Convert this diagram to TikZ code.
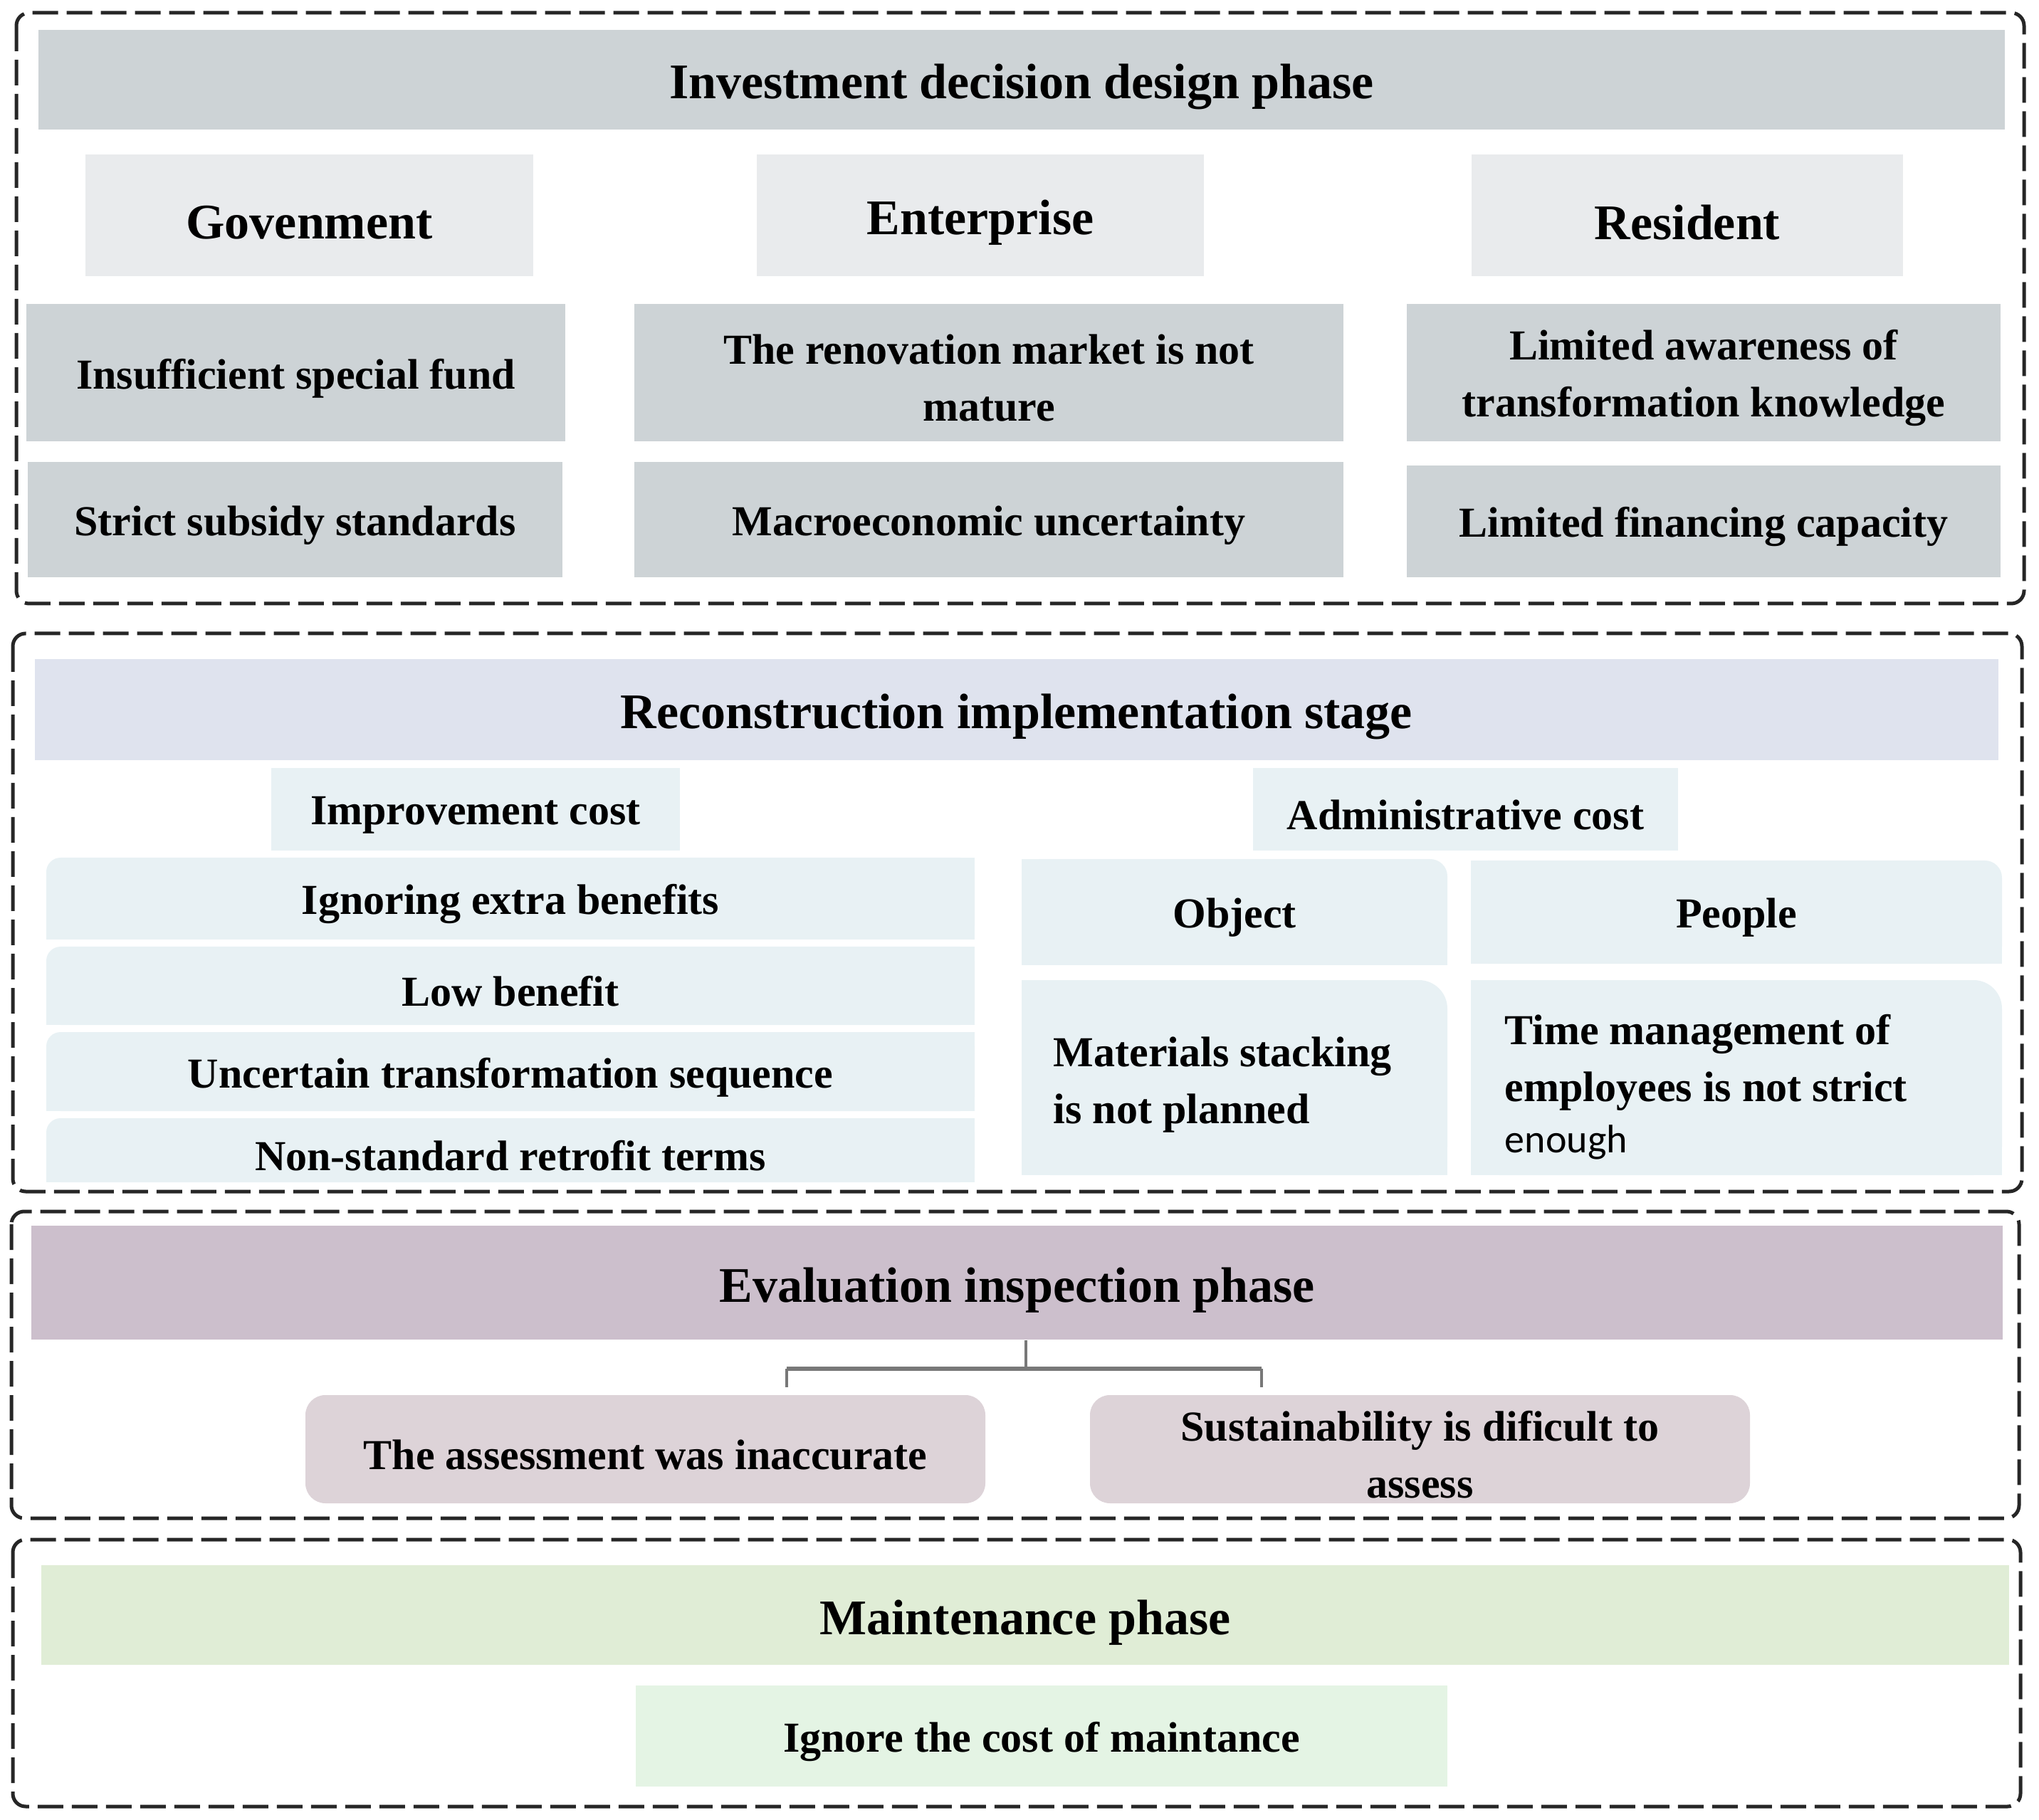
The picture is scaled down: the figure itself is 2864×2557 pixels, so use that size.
\documentclass[tikz,border=0pt]{standalone}
\usepackage{fontspec}
\setmainfont{Liberation Serif}
\newfontfamily\calfont{Carlito}
\definecolor{cA}{HTML}{CDD3D6}
\definecolor{cAh}{HTML}{E9EBED}
\definecolor{cBt}{HTML}{DFE3EE}
\definecolor{cB}{HTML}{E8F1F4}
\definecolor{cCt}{HTML}{CCBFCC}
\definecolor{cC}{HTML}{DDD3D8}
\definecolor{cDt}{HTML}{E0EDD6}
\definecolor{cD}{HTML}{E4F4E4}
\definecolor{dashc}{HTML}{262626}
\definecolor{connc}{HTML}{787878}
\tikzset{
  txt/.style={font=\bfseries\fontsize{15}{20}\selectfont, align=center, inner sep=0pt, text=black, yshift=-2pt},
  ttl/.style={font=\bfseries\fontsize{17.5}{22}\selectfont, align=center, inner sep=0pt, text=black, yshift=-2.6pt},
  dashbox/.style={draw=dashc, line width=1.25pt, dash pattern=on 9pt off 3pt, rounded corners=4.5pt},
  conn/.style={draw=connc, line width=1.2pt},
}
% name, text style, fill options, x1, y1, x2, y2, text
\newcommand\bxnode[8]{%
  \node[#3, inner sep=0pt, minimum width={(#6-#4)*0.25pt}, minimum height={(#7-#5)*0.25pt}] (#1) at ({(#4+#6)/2},{(#5+#7)/2}) {};
  \node[#2] (#1t) at (#1.center) {#8};}
% top-left rounded fill: colour, radius px, x1,y1,x2,y2
\newcommand\tlfill[6]{%
  \pgfmathsetlengthmacro\rr{#2*0.25pt}%
  \fill[#1, rounded corners=\rr] (#3,#4) rectangle (#5,#6);
  \fill[#1] ({#3+#2},#4) rectangle (#5,#6);
  \fill[#1] (#3,{#4+#2}) rectangle (#5,#6);}
% top-right rounded fill
\newcommand\trfill[6]{%
  \pgfmathsetlengthmacro\rr{#2*0.25pt}%
  \fill[#1, rounded corners=\rr] (#3,#4) rectangle (#5,#6);
  \fill[#1] (#3,#4) rectangle ({#5-#2},#6);
  \fill[#1] (#3,{#4+#2}) rectangle (#5,#6);}
\begin{document}
\begin{tikzpicture}[x=0.25pt, y=-0.25pt]
\useasboundingbox (0,0) rectangle (2864,2557);

% ---------------- Box 1: Investment decision design phase
\draw[dashbox] (23,18) rectangle (2843,848);
\bxnode{inv}{ttl}{fill=cA}{54}{42}{2816}{182}{Investment decision design phase}
\bxnode{gov}{ttl}{fill=cAh}{120}{217}{749}{388}{Govenment}
\bxnode{ent}{ttl}{fill=cAh}{1063}{217}{1691}{388}{Enterprise}
\bxnode{res}{ttl}{fill=cAh}{2067}{217}{2673}{388}{Resident}
\bxnode{ins}{txt}{fill=cA}{37}{427}{794}{620}{Insufficient special fund}
\bxnode{ren}{txt}{fill=cA}{891}{427}{1887}{620}{The renovation market is not\\mature}
\bxnode{awa}{txt}{fill=cA}{1976}{427}{2810}{620}{Limited awareness of\\transformation knowledge}
\bxnode{str}{txt}{fill=cA}{39}{649}{790}{811}{Strict subsidy standards}
\bxnode{mac}{txt}{fill=cA}{891}{649}{1887}{811}{Macroeconomic uncertainty}
\bxnode{fin}{txt}{fill=cA}{1976}{654}{2810}{811}{Limited financing capacity}

% ---------------- Box 2: Reconstruction implementation stage
\draw[dashbox] (18,890) rectangle (2840,1674);
\bxnode{rec}{ttl}{fill=cBt}{49}{926}{2807}{1068}{Reconstruction implementation stage}
\bxnode{imp}{txt}{fill=cB}{381}{1079}{955}{1195}{Improvement cost}
\bxnode{adm}{txt}{fill=cB}{1760}{1079}{2357}{1195}{Administrative cost}
\tlfill{cB}{20}{65}{1205}{1369}{1320}
\tlfill{cB}{20}{65}{1330}{1369}{1440}
\tlfill{cB}{20}{65}{1450}{1369}{1561}
\tlfill{cB}{20}{65}{1571}{1369}{1661}
\bxnode{ign}{txt}{}{65}{1205}{1369}{1320}{Ignoring extra benefits}
\bxnode{low}{txt}{}{65}{1330}{1369}{1440}{Low benefit}
\bxnode{unc}{txt}{}{65}{1450}{1369}{1561}{Uncertain transformation sequence}
\bxnode{non}{txt}{}{65}{1571}{1369}{1661}{Non-standard retrofit terms}
\trfill{cB}{24}{1435}{1207}{2033}{1356}
\trfill{cB}{24}{2066}{1209}{2812}{1354}
\trfill{cB}{40}{1435}{1377}{2033}{1651}
\trfill{cB}{40}{2066}{1377}{2812}{1651}
\bxnode{obj}{txt}{}{1435}{1207}{2033}{1356}{Object}
\bxnode{peo}{txt}{}{2066}{1209}{2812}{1354}{People}
\node[txt, align=left, anchor=west] (mat) at (1479,1516) {Materials stacking\\is not planned};
\node[txt, align=left, anchor=west] (tim) at (2113,1519) {Time management of\\employees is not strict\\[-2pt]{\calfont\mdseries\fontsize{14}{18}\selectfont enough}};

% ---------------- Box 3: Evaluation inspection phase
\draw[dashbox] (16,1702) rectangle (2836,2133);
\bxnode{evt}{ttl}{fill=cCt}{44}{1722}{2813}{1882}{Evaluation inspection phase}
\bxnode{ass}{txt}{fill=cC, rounded corners=7pt}{429}{1960}{1384}{2112}{The assessment was inaccurate}
\bxnode{sus}{txt}{fill=cC, rounded corners=7pt}{1531}{1960}{2458}{2112}{Sustainability is dificult to\\assess}
\coordinate (bm) at (1441,1923);
\coordinate (bl) at (1105,1949);
\coordinate (br) at (1772,1949);
\draw[conn] (bm |- evt.south) -- (bm);
\draw[conn] (bl |- bm) -- (bl);
\draw[conn] (br |- bm) -- (br);
\draw[conn, line width=1.6pt] (bl |- bm) -- (br |- bm);

% ---------------- Box 4: Maintenance phase
\draw[dashbox] (18,2163) rectangle (2838,2538);
\bxnode{mnt}{ttl}{fill=cDt}{58}{2199}{2822}{2339}{Maintenance phase}
\bxnode{ico}{txt}{fill=cD}{893}{2368}{2033}{2510}{Ignore the cost of maintance}
\end{tikzpicture}
\end{document}
